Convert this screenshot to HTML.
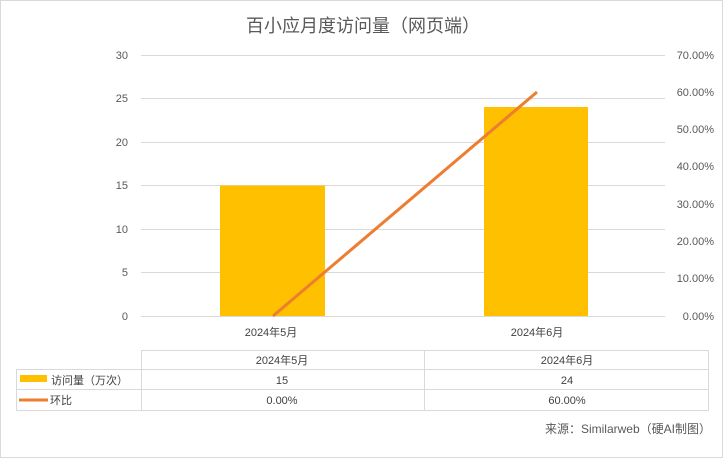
<!DOCTYPE html>
<html><head><meta charset="utf-8"><style>
body{margin:0;background:#fff;}
svg text{font-family:"Liberation Sans","Noto Sans CJK SC",sans-serif;}
</style></head><body>
<svg width="726" height="459" xmlns="http://www.w3.org/2000/svg">
<rect x="0.5" y="0.5" width="722" height="457" fill="#fff" stroke="#d9d9d9"/>
<text x="363" y="32" font-size="18" fill="#595959" text-anchor="middle">百小应月度访问量（网页端）</text>
<g stroke="#d9d9d9" stroke-width="1">
<line x1="141" y1="55.5" x2="665" y2="55.5"/>
<line x1="141" y1="98.5" x2="665" y2="98.5"/>
<line x1="141" y1="142.5" x2="665" y2="142.5"/>
<line x1="141" y1="185.5" x2="665" y2="185.5"/>
<line x1="141" y1="229.5" x2="665" y2="229.5"/>
<line x1="141" y1="272.5" x2="665" y2="272.5"/>
<line x1="141" y1="316.5" x2="665" y2="316.5"/>
</g>
<g font-size="11" fill="#595959" text-anchor="end">
<text x="128" y="59">30</text><text x="128" y="102">25</text><text x="128" y="146">20</text>
<text x="128" y="189">15</text><text x="128" y="233">10</text><text x="128" y="276">5</text><text x="128" y="320">0</text>
</g>
<g font-size="11" fill="#595959" text-anchor="end">
<text x="714" y="59">70.00%</text><text x="714" y="96">60.00%</text><text x="714" y="133">50.00%</text>
<text x="714" y="170">40.00%</text><text x="714" y="208">30.00%</text><text x="714" y="245">20.00%</text>
<text x="714" y="282">10.00%</text><text x="714" y="320">0.00%</text>
</g>
<rect x="220" y="185.5" width="105" height="130.5" fill="#ffc000"/>
<rect x="484" y="107" width="104" height="209" fill="#ffc000"/>
<line x1="273" y1="316" x2="537" y2="92" stroke="#ed7d31" stroke-width="3"/>
<g font-size="11" fill="#404040" text-anchor="middle">
<text x="271" y="336">2024年5月</text><text x="537" y="336">2024年6月</text>
</g>
<g stroke="#d9d9d9" fill="none">
<rect x="141.5" y="350.5" width="567" height="60"/>
<rect x="16.5" y="369.5" width="125" height="41"/>
<line x1="424.5" y1="350" x2="424.5" y2="411"/>
<line x1="16" y1="389.5" x2="709" y2="389.5"/>
<line x1="141" y1="369.5" x2="709" y2="369.5"/>
</g>
<rect x="20" y="375" width="27" height="7" fill="#ffc000"/>
<line x1="19" y1="400" x2="48" y2="400" stroke="#ed7d31" stroke-width="3"/>
<g font-size="11" fill="#404040">
<text x="51" y="384">访问量（万次）</text><text x="50" y="404">环比</text>
</g>
<g font-size="11" fill="#404040" text-anchor="middle">
<text x="282" y="364">2024年5月</text><text x="567" y="364">2024年6月</text>
<text x="282" y="384">15</text><text x="567" y="384">24</text>
<text x="282" y="404">0.00%</text><text x="567" y="404">60.00%</text>
</g>
<text x="711" y="433" font-size="12" fill="#595959" text-anchor="end">来源：Similarweb（硬AI制图）</text>
</svg>
</body></html>
